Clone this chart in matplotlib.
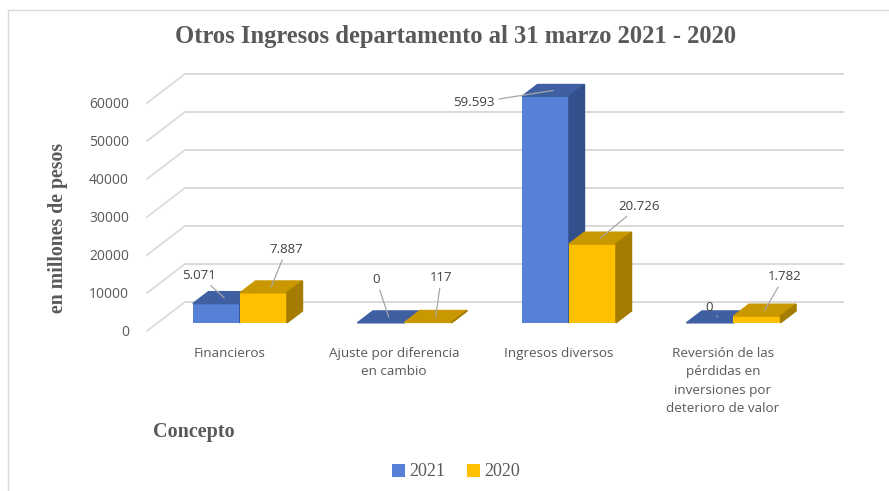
import matplotlib
matplotlib.use("Agg")
import matplotlib.pyplot as plt
from matplotlib.patches import Polygon, Rectangle

# datos
categorias = ["Financieros", "Ajuste por diferencia\nen cambio", "Ingresos diversos",
              "Reversión de las\npérdidas en\ninversiones por\ndeterioro de valor"]
valores_2021 = [5071, 0, 59593, 0]
valores_2020 = [7887, 117, 20726, 1782]
etiquetas_2021 = ["5.071", "0", "59.593", "0"]
etiquetas_2020 = ["7.887", "117", "20.726", "1.782"]
ticks_y = [0, 10000, 20000, 30000, 40000, 50000, 60000]

# offsets of the data labels (points) relative to the bar top
off_2021 = [(-18, 16), (-9, 27), (-57, -9), (-6, 7)]
off_2020 = [(11, 27), (4, 28), (28, 23), (14, 24)]

gris = "#595959"
colores = {"2021": ("#5681D6", "#3F5FA3", "#34508C"),
           "2020": ("#FFC000", "#C99700", "#A47C00")}

fig = plt.figure(figsize=(8.89, 4.91), dpi=100)
ax = fig.add_axes([147 / 889, 160 / 491, 699 / 889, 266 / 491])
ax.set_xlim(-0.5, 3.749)
ax.set_ylim(0, 70000)
for s in ax.spines.values():
    s.set_visible(False)

# fake 3d depth (x in category units, y in value units)
DX, DY = 0.231, 7650
f0, f1 = 0.28, 0.69
w = 0.286

# back wall and side lines
for v in ticks_y:
    ax.plot([-0.5, -0.5 + DX], [v, v + DY], color="#d9d9d9", lw=1.2, zorder=0, clip_on=False)
    ax.plot([-0.5 + DX, 3.5 + DX], [v + DY, v + DY], color="#d9d9d9", lw=1.4, zorder=0, clip_on=False)

z = 2
for i in range(len(categorias)):
    for serie, vals, etq, off, x0 in [("2021", valores_2021, etiquetas_2021, off_2021, i - w),
                                      ("2020", valores_2020, etiquetas_2020, off_2020, i)]:
        v = vals[i]
        cf, ct, cs = colores[serie]
        ax.bar(x0 + f0 * DX, v, width=w, bottom=f0 * DY, align="edge", color=cf,
               label=serie if i == 0 else None, zorder=z)
        top = [(x0 + f0 * DX, v + f0 * DY), (x0 + w + f0 * DX, v + f0 * DY),
               (x0 + w + f1 * DX, v + f1 * DY), (x0 + f1 * DX, v + f1 * DY)]
        ax.add_patch(Polygon(top, closed=True, color=ct, zorder=z + 0.1))
        xr = x0 + w
        side = [(xr + f0 * DX, f0 * DY), (xr + f0 * DX, v + f0 * DY),
                (xr + f1 * DX, v + f1 * DY), (xr + f1 * DX, f1 * DY)]
        ax.add_patch(Polygon(side, closed=True, color=cs, zorder=z + 0.2))
        mid = (f0 + f1) / 2
        ax.annotate(etq[i], xy=(x0 + w / 2 + mid * DX, v + mid * DY), xytext=off[i],
                    textcoords="offset points", ha="center", va="center",
                    fontsize=9.5, family="Open Sans", color="#404040", zorder=20,
                    arrowprops=dict(arrowstyle="-", color="#a6a6a6", lw=0.9,
                                    shrinkA=1, shrinkB=0))
        z += 1

ax.set_yticks(ticks_y)
ax.set_yticklabels([str(t) for t in ticks_y], family="Open Sans", fontsize=10, color=gris)
ax.tick_params(axis="y", length=0, pad=13)
ax.set_xticks(range(len(categorias)))
ax.set_xticklabels(categorias, family="Open Sans", fontsize=9.7, color=gris)
ax.tick_params(axis="x", length=0, pad=11.5)
for lbl in ax.get_xticklabels():
    lbl.set_linespacing(1.55)

fig.text(456 / 889, 1 - 37 / 491, "Otros Ingresos departamento al 31 marzo 2021 - 2020",
         ha="center", va="center", family="Liberation Serif", fontweight="bold",
         fontsize=17.7, color=gris)
fig.text(58 / 889, 1 - 228 / 491, "en millones de pesos", rotation=90, ha="center",
         va="center", family="Liberation Serif", fontweight="bold", fontsize=14.2, color=gris)
fig.text(153 / 889, 1 - 432 / 491, "Concepto", ha="left", va="center",
         family="Liberation Serif", fontweight="bold", fontsize=14.5, color=gris)

leg = fig.legend(loc="center", bbox_to_anchor=(456 / 889, 1 - 472 / 491), ncol=2,
                 frameon=False, prop={"family": "Liberation Serif", "size": 13},
                 handlelength=0.7, handleheight=0.7, handletextpad=0.25, columnspacing=1.2)
for t in leg.get_texts():
    t.set_color(gris)

fig.add_artist(Rectangle((8 / 889, -0.1), 2, 1.1 - 10 / 491, transform=fig.transFigure,
                         fill=False, ec="#d9d9d9", lw=1))

fig.savefig("out.png", dpi=100)
